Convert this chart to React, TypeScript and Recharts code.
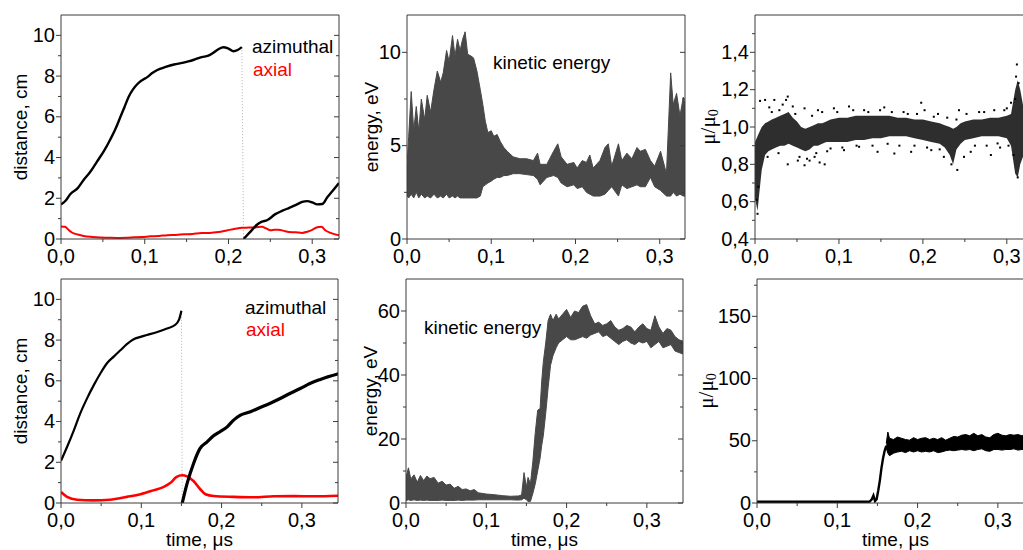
import type { JSX, ReactNode } from "react";
import { Area, ComposedChart, Line, Scatter, XAxis, YAxis } from "recharts";

const FONT = "'Liberation Sans', Arial, sans-serif";
const SERIF = "'Liberation Serif', 'Times New Roman', serif";
const AXIS = "#3a3a3a";
const INK = "#000000";
const RED = "#ff0000";
const BAND = "#484848";

// time axis (all panels)
const timeMajor = [0, 0.1, 0.2, 0.3];
const timeMinor = [0.05, 0.15, 0.25];

// top-left: distance, azimuthal before / after the jump, axial
const azTopTimeA = [0, 0.006, 0.011, 0.02, 0.027, 0.035, 0.043, 0.051, 0.059, 0.065, 0.071, 0.076, 0.081, 0.086, 0.091, 0.097, 0.103, 0.109, 0.115, 0.125, 0.135, 0.145, 0.152, 0.16, 0.168, 0.176, 0.182, 0.188, 0.194, 0.2, 0.206, 0.211, 0.216];
const azTopDistA = [1.7, 1.9, 2.2, 2.5, 2.9, 3.3, 3.8, 4.3, 4.9, 5.4, 6.0, 6.5, 7.0, 7.35, 7.6, 7.8, 7.95, 8.15, 8.3, 8.45, 8.57, 8.65, 8.72, 8.82, 8.93, 9.0, 9.15, 9.32, 9.42, 9.35, 9.22, 9.28, 9.42];
const azTopTimeB = [0.218, 0.226, 0.234, 0.24, 0.246, 0.256, 0.264, 0.272, 0.28, 0.288, 0.294, 0.3, 0.306, 0.312, 0.318, 0.324, 0.332];
const azTopDistB = [0, 0.35, 0.7, 0.85, 0.92, 1.22, 1.38, 1.52, 1.66, 1.82, 1.86, 1.8, 1.7, 1.72, 2.05, 2.35, 2.75];
const axTopTime = [0, 0.005, 0.009, 0.013, 0.02, 0.027, 0.037, 0.047, 0.057, 0.067, 0.077, 0.087, 0.097, 0.107, 0.117, 0.127, 0.137, 0.147, 0.157, 0.168, 0.178, 0.188, 0.198, 0.208, 0.216, 0.224, 0.232, 0.24, 0.245, 0.25, 0.255, 0.26, 0.266, 0.272, 0.28, 0.288, 0.294, 0.3, 0.306, 0.311, 0.316, 0.322, 0.332];
const axTopDist = [0.62, 0.6, 0.45, 0.32, 0.22, 0.15, 0.1, 0.07, 0.06, 0.05, 0.06, 0.08, 0.1, 0.13, 0.15, 0.19, 0.2, 0.23, 0.25, 0.3, 0.3, 0.34, 0.42, 0.5, 0.55, 0.56, 0.57, 0.6, 0.52, 0.43, 0.45, 0.46, 0.4, 0.34, 0.33, 0.3, 0.36, 0.45, 0.58, 0.6, 0.42, 0.3, 0.18];

// top-middle: kinetic energy envelope
const keTopTime = [0, 0.002, 0.005, 0.008, 0.011, 0.014, 0.017, 0.021, 0.024, 0.028, 0.032, 0.036, 0.04, 0.043, 0.047, 0.05, 0.054, 0.057, 0.06, 0.063, 0.066, 0.069, 0.072, 0.076, 0.079, 0.083, 0.087, 0.09, 0.093, 0.096, 0.1, 0.103, 0.107, 0.111, 0.115, 0.119, 0.126, 0.134, 0.142, 0.15, 0.155, 0.158, 0.166, 0.174, 0.179, 0.183, 0.19, 0.198, 0.202, 0.208, 0.213, 0.217, 0.221, 0.229, 0.235, 0.239, 0.243, 0.251, 0.255, 0.261, 0.267, 0.273, 0.277, 0.283, 0.289, 0.294, 0.301, 0.308, 0.313, 0.316, 0.32, 0.324, 0.328, 0.331];
const keTopHigh = [3.9, 5.5, 7.9, 5.8, 7.1, 5.8, 7.5, 6.4, 7.7, 6.8, 8.0, 9.0, 8.4, 8.9, 10.1, 9.5, 10.9, 9.8, 10.7, 10.1, 10.7, 11.1, 9.9, 9.8, 9.7, 9.0, 8.0, 7.2, 6.3, 5.7, 5.8, 5.5, 5.6, 5.2, 4.9, 4.7, 4.4, 4.3, 4.3, 4.2, 4.6, 4.0, 4.0, 4.7, 5.1, 4.4, 4.0, 4.1, 3.8, 4.2, 4.1, 4.5, 3.8, 4.2, 4.9, 5.1, 3.9, 5.1, 4.2, 4.6, 4.3, 4.9, 4.7, 4.8, 4.2, 3.9, 4.7, 3.5, 8.9, 7.2, 7.8, 6.6, 7.6, 7.0];
const keTopLow = [2.3, 2.2, 2.4, 2.2, 2.5, 2.2, 2.4, 2.2, 2.3, 2.2, 2.4, 2.2, 2.3, 2.2, 2.4, 2.2, 2.3, 2.2, 2.3, 2.2, 2.2, 2.2, 2.2, 2.2, 2.2, 2.2, 2.3, 2.8, 2.9, 3.0, 3.1, 3.2, 3.3, 3.3, 3.4, 3.4, 3.5, 3.5, 3.45, 3.4, 3.2, 2.9, 3.3, 3.4, 3.3, 3.0, 2.8, 2.9, 2.7, 2.8, 2.5, 2.4, 2.3, 2.3, 2.4, 2.6, 2.8, 2.3, 2.9, 2.7, 2.8, 2.9, 2.8, 2.8, 3.3, 2.8, 2.6, 2.3, 2.3, 2.5, 2.3, 2.4, 2.3, 2.3];

// top-right: mu / mu0, dense core plus scattered points
const muTopTime = [0, 0.003, 0.005, 0.008, 0.012, 0.016, 0.02, 0.025, 0.03, 0.035, 0.04, 0.045, 0.05, 0.055, 0.06, 0.065, 0.07, 0.075, 0.08, 0.085, 0.09, 0.1, 0.11, 0.12, 0.13, 0.14, 0.15, 0.16, 0.17, 0.18, 0.19, 0.2, 0.21, 0.22, 0.226, 0.232, 0.236, 0.24, 0.245, 0.25, 0.26, 0.27, 0.28, 0.29, 0.3, 0.305, 0.31, 0.313, 0.316, 0.32, 0.33];
const muTopLow = [0.62, 0.55, 0.64, 0.77, 0.85, 0.87, 0.88, 0.89, 0.9, 0.9, 0.91, 0.9, 0.89, 0.88, 0.87, 0.88, 0.9, 0.9, 0.91, 0.92, 0.92, 0.92, 0.92, 0.93, 0.93, 0.94, 0.94, 0.95, 0.95, 0.95, 0.94, 0.93, 0.92, 0.91, 0.89, 0.85, 0.8, 0.88, 0.91, 0.93, 0.94, 0.95, 0.95, 0.95, 0.94, 0.9, 0.75, 0.73, 0.8, 0.85, 0.9];
const muTopHigh = [0.92, 0.95, 0.97, 1.0, 1.02, 1.03, 1.04, 1.05, 1.06, 1.07, 1.08, 1.05, 1.03, 1.0, 0.99, 1.0, 1.01, 1.02, 1.02, 1.03, 1.04, 1.05, 1.05, 1.06, 1.06, 1.06, 1.06, 1.06, 1.05, 1.05, 1.04, 1.04, 1.03, 1.02, 1.01, 1.0, 0.99, 1.0, 1.02, 1.03, 1.04, 1.04, 1.05, 1.05, 1.06, 1.07, 1.2, 1.25, 1.2, 1.1, 1.06];
const muTopDotTime = [0.003, 0.002, 0.004, 0.006, 0.012, 0.015, 0.017, 0.023, 0.029, 0.037, 0.039, 0.045, 0.039, 0.051, 0.059, 0.065, 0.071, 0.077, 0.083, 0.059, 0.075, 0.094, 0.112, 0.13, 0.154, 0.182, 0.198, 0.202, 0.213, 0.225, 0.24, 0.241, 0.243, 0.249, 0.281, 0.297, 0.305, 0.311, 0.312, 0.313, 0.314, 0.146, 0.166, 0.186, 0.257, 0.124, 0.289, 0.106, 0.09, 0.21, 0.267, 0.02, 0.028, 0.033, 0.048, 0.053, 0.062, 0.068, 0.073, 0.08, 0.086, 0.098, 0.104, 0.117, 0.121, 0.135, 0.14, 0.149, 0.158, 0.163, 0.172, 0.177, 0.19, 0.193, 0.205, 0.218, 0.22, 0.229, 0.234, 0.252, 0.262, 0.273, 0.276, 0.285, 0.292, 0.3, 0.302, 0.308, 0.31];
const muTopDotVal = [0.535, 0.61, 0.68, 1.14, 1.145, 0.84, 1.105, 1.145, 1.09, 1.145, 1.163, 1.11, 0.8, 0.82, 0.795, 0.82, 0.84, 0.81, 0.8, 1.1, 1.09, 1.1, 1.11, 1.09, 1.105, 1.07, 1.13, 1.09, 1.055, 0.84, 1.04, 0.77, 1.09, 0.84, 0.85, 1.09, 1.13, 1.27, 1.335, 0.73, 1.235, 0.867, 0.858, 0.867, 0.867, 0.894, 0.912, 0.876, 0.885, 0.876, 1.08, 1.08, 0.86, 1.12, 1.07, 0.84, 0.83, 1.06, 0.86, 1.08, 0.87, 1.08, 0.89, 1.09, 0.9, 1.08, 0.9, 1.09, 0.91, 1.08, 0.9, 1.08, 0.9, 1.07, 0.89, 1.07, 0.88, 1.05, 0.8, 1.07, 0.9, 1.08, 0.9, 1.09, 0.89, 1.1, 0.9, 0.85, 1.15];

// bottom-left: distance
const azBotTimeA = [0, 0.0075, 0.016, 0.024, 0.032, 0.041, 0.049, 0.057, 0.066, 0.074, 0.082, 0.09, 0.099, 0.107, 0.12, 0.132, 0.142, 0.147, 0.15];
const azBotDistA = [2.07, 2.75, 3.57, 4.4, 5.1, 5.8, 6.36, 6.85, 7.2, 7.5, 7.8, 8.03, 8.16, 8.25, 8.4, 8.57, 8.74, 9.0, 9.44];
const azBotTimeB = [0.151, 0.157, 0.165, 0.173, 0.182, 0.19, 0.198, 0.207, 0.215, 0.223, 0.236, 0.248, 0.26, 0.273, 0.285, 0.298, 0.31, 0.323, 0.346];
const azBotDistB = [0, 0.95, 1.93, 2.67, 3.0, 3.3, 3.5, 3.74, 4.07, 4.3, 4.48, 4.69, 4.89, 5.13, 5.38, 5.62, 5.87, 6.07, 6.35];
const axBotTime = [0, 0.0075, 0.02, 0.04, 0.061, 0.082, 0.099, 0.115, 0.128, 0.136, 0.144, 0.151, 0.157, 0.165, 0.173, 0.18, 0.19, 0.215, 0.24, 0.265, 0.29, 0.315, 0.346];
const axBotDist = [0.54, 0.3, 0.16, 0.13, 0.16, 0.3, 0.43, 0.62, 0.79, 0.98, 1.28, 1.36, 1.31, 1.08, 0.7, 0.43, 0.34, 0.3, 0.28, 0.33, 0.34, 0.33, 0.36];

// bottom-middle: kinetic energy envelope
const keBotTime = [0, 0.003, 0.006, 0.01, 0.014, 0.018, 0.022, 0.026, 0.03, 0.035, 0.04, 0.045, 0.05, 0.055, 0.06, 0.065, 0.07, 0.075, 0.08, 0.085, 0.09, 0.1, 0.11, 0.12, 0.13, 0.14, 0.144, 0.147, 0.15, 0.152, 0.155, 0.158, 0.161, 0.164, 0.167, 0.169, 0.171, 0.174, 0.177, 0.18, 0.183, 0.187, 0.19, 0.195, 0.2, 0.205, 0.21, 0.215, 0.22, 0.225, 0.23, 0.235, 0.24, 0.245, 0.25, 0.255, 0.26, 0.265, 0.27, 0.275, 0.28, 0.285, 0.29, 0.295, 0.3, 0.305, 0.31, 0.315, 0.32, 0.325, 0.33, 0.335, 0.34, 0.346];
const keBotHigh = [8, 11, 7.5, 8.8, 6.5, 8.6, 7.0, 8.4, 7.6, 8.0, 6.2, 6.8, 5.6, 5.9, 4.6, 5.2, 4.2, 4.4, 3.8, 4.2, 3.2, 2.8, 2.6, 2.3, 2.1, 2.2, 2.5, 9.5, 5.0, 8.0, 6.0, 13, 22, 29, 29.5, 38, 44, 50, 57, 59, 57, 59, 57.5, 59, 60.5, 58, 60, 59.5, 61.5, 62, 58.5, 56, 56.5, 55.5, 56, 57, 55, 54, 54.5, 55.5, 55, 53.5, 55, 56, 54.5, 54, 58.5, 55, 53, 54.5, 54, 52, 51, 50.5];
const keBotLow = [0.8, 1.0, 0.8, 1.0, 0.8, 0.9, 0.8, 0.9, 0.8, 0.8, 0.8, 0.9, 0.8, 0.8, 0.8, 0.9, 0.8, 0.9, 0.9, 0.9, 1.0, 1.0, 1.0, 1.0, 1.0, 0.9, 1.0, 1.5, 1.0, 0.5, 0.5, 3, 6, 10, 14, 18, 21, 28, 36, 43, 46, 48.5, 50, 51, 52, 51, 51, 51.5, 52, 51.5, 52.5, 53, 53.5, 52, 52.5, 51.5, 50.5, 49.5, 50.5, 51, 50, 49.5, 50.5, 50, 50.5, 48.5, 49.5, 50.5, 48.5, 49, 49.5, 47.5, 47, 46.5];

// bottom-right: mu / mu0
const muBotRampTime = [0, 0.05, 0.1, 0.14, 0.143, 0.145, 0.147, 0.149, 0.151, 0.153, 0.155, 0.157, 0.159, 0.161];
const muBotRampVal = [1, 1, 1, 1, 3, 6, 1.5, 3, 10, 18, 28, 36, 42, 46];
const muBotTime = [0.161, 0.163, 0.165, 0.17, 0.175, 0.18, 0.185, 0.19, 0.195, 0.2, 0.205, 0.21, 0.215, 0.22, 0.225, 0.23, 0.235, 0.24, 0.245, 0.25, 0.255, 0.26, 0.265, 0.27, 0.275, 0.28, 0.285, 0.29, 0.295, 0.3, 0.305, 0.31, 0.315, 0.32, 0.325, 0.33, 0.335];
const muBotHigh = [48, 57, 52, 51, 53, 52, 51, 50.5, 52.5, 51, 52, 52.5, 51, 52, 51, 52.5, 50.5, 52, 53.5, 53, 54.5, 55, 54, 56, 54, 55, 53, 52.5, 55, 56, 54.5, 54, 55, 54.5, 55, 54, 55];
const muBotLow = [44, 40, 38, 40, 41, 41.5, 40.5, 42, 41, 42, 41, 41.5, 41, 42, 40.5, 41, 42, 42.5, 42, 42.5, 43, 42.5, 43, 42, 43, 43.5, 42, 41.5, 43, 43, 42.5, 43, 43, 43.5, 42.5, 43, 43];

const pts = (t: number[], v: number[]) => t.map((x, i) => ({ t: x, v: v[i] }));
const band = (t: number[], lo: number[], hi: number[]) =>
  t.map((x, i) => ({ t: x, range: [lo[i], hi[i]] }));

const comma = (d: number) => (v: number) => v.toFixed(d).replace(".", ",");
const near = (v: number, list: number[]) => list.some((m) => Math.abs(m - v) < 1e-6);

type PanelProps = {
  left: number;
  top: number;
  plotW: number;
  plotH: number;
  xMax: number;
  yDomain: [number, number];
  yMajor: number[];
  yMinor: number[];
  yFmt: (v: number) => string;
  title: ReactNode;
  titleGap: number;
  timeLabel?: boolean;
  children: ReactNode;
};

function Panel(p: PanelProps): JSX.Element {
  const xTicks = [...timeMajor, ...timeMinor].sort((a, b) => a - b);
  const yTicks = [...p.yMajor, ...p.yMinor].sort((a, b) => a - b);
  const tickTxt = { fontFamily: FONT, fontSize: 20, fill: INK };
  const titleTxt = { fontFamily: FONT, fontSize: 19, fill: INK };

  const bottomTick = (t: any) => {
    const major = near(t.payload.value, timeMajor);
    return (
      <g>
        <line x1={t.x} x2={t.x} y1={t.y} y2={t.y + (major ? 5 : 3)} stroke={AXIS} />
        {major && (
          <text x={t.x} y={t.y + 24} textAnchor="middle" {...tickTxt}>
            {comma(1)(t.payload.value)}
          </text>
        )}
      </g>
    );
  };
  const topTick = (t: any) => {
    const major = near(t.payload.value, timeMajor);
    return <line x1={t.x} x2={t.x} y1={t.y} y2={t.y + (major ? 5 : 3)} stroke={AXIS} />;
  };
  const leftTick = (t: any) => {
    const major = near(t.payload.value, p.yMajor);
    return (
      <g>
        <line x1={t.x - (major ? 5 : 3)} x2={t.x} y1={t.y} y2={t.y} stroke={AXIS} />
        {major && (
          <text x={t.x - 6} y={t.y + 6.5} textAnchor="end" {...tickTxt}>
            {p.yFmt(t.payload.value)}
          </text>
        )}
      </g>
    );
  };
  const rightTick = (t: any) => {
    const major = near(t.payload.value, p.yMajor);
    return <line x1={t.x - (major ? 5 : 3)} x2={t.x} y1={t.y} y2={t.y} stroke={AXIS} />;
  };
  const yTitle = (props: any) => {
    const vb = props.viewBox;
    const cx = vb.x + vb.width - p.titleGap;
    const cy = vb.y + vb.height / 2;
    return (
      <text x={cx} y={cy} transform={`rotate(-90 ${cx} ${cy})`} textAnchor="middle" dominantBaseline="central" {...titleTxt}>
        {p.title}
      </text>
    );
  };
  const xTitle = (props: any) => {
    const vb = props.viewBox;
    return (
      <text x={vb.x + vb.width / 2} y={vb.y + 43} textAnchor="middle" {...titleTxt}>
        time, μs
      </text>
    );
  };

  return (
    <div style={{ position: "absolute", left: p.left - 70, top: p.top - 10 }}>
      <ComposedChart width={p.plotW + 80} height={p.plotH + 60} margin={{ top: 8, right: 8, bottom: 0, left: 0 }}>
        <XAxis
          dataKey="t"
          type="number"
          domain={[0, p.xMax]}
          ticks={xTicks}
          interval={0}
          allowDataOverflow
          height={50}
          tickSize={0}
          tickMargin={0}
          tickLine={false}
          axisLine={{ stroke: AXIS }}
          tick={bottomTick}
          label={p.timeLabel ? xTitle : undefined}
        />
        <XAxis
          xAxisId="top"
          orientation="top"
          type="number"
          domain={[0, p.xMax]}
          ticks={xTicks}
          interval={0}
          allowDataOverflow
          height={2}
          tickSize={0}
          tickMargin={0}
          tickLine={false}
          axisLine={{ stroke: AXIS }}
          tick={topTick}
        />
        <YAxis
          type="number"
          domain={p.yDomain}
          ticks={yTicks}
          interval={0}
          allowDataOverflow
          width={70}
          tickSize={0}
          tickMargin={0}
          tickLine={false}
          axisLine={{ stroke: AXIS }}
          tick={leftTick}
          label={yTitle}
        />
        <YAxis
          yAxisId="right"
          orientation="right"
          type="number"
          domain={p.yDomain}
          ticks={yTicks}
          interval={0}
          allowDataOverflow
          width={2}
          tickSize={0}
          tickMargin={0}
          tickLine={false}
          axisLine={{ stroke: AXIS }}
          tick={rightTick}
        />
        {p.children}
      </ComposedChart>
    </div>
  );
}

const muTitle = (
  <>
    <tspan fontFamily={SERIF} fontSize={21}>μ/μ</tspan>
    <tspan fontFamily={SERIF} fontSize={14} dy={5}>0</tspan>
  </>
);

const distMajor = [0, 2, 4, 6, 8, 10];
const distMinor = [1, 3, 5, 7, 9];

export default function App(): JSX.Element {
  const azTopA = pts(azTopTimeA, azTopDistA);
  const azTopB = pts(azTopTimeB, azTopDistB);
  const azBotA = pts(azBotTimeA, azBotDistA);
  const azBotB = pts(azBotTimeB, azBotDistB);
  const note = { fontFamily: FONT, fontSize: 19 };

  return (
    <div style={{ position: "absolute", left: 0, top: 0, width: 1023, height: 550, overflow: "hidden", background: "#fff" }}>
      {/* top row */}
      <Panel left={61} top={15} plotW={278} plotH={224} xMax={0.332} yDomain={[0, 11]} yMajor={distMajor} yMinor={distMinor} yFmt={String} title="distance, cm" titleGap={41}>
        <Line data={[azTopA[azTopA.length - 1], azTopB[0]]} dataKey="v" stroke="#b0b0b0" strokeWidth={1} strokeDasharray="1 2" dot={false} isAnimationActive={false} />
        <Line data={pts(axTopTime, axTopDist)} dataKey="v" type="monotone" stroke={RED} strokeWidth={2} dot={false} isAnimationActive={false} />
        <Line data={azTopA} dataKey="v" type="monotone" stroke={INK} strokeWidth={2.4} dot={false} isAnimationActive={false} />
        <Line data={azTopB} dataKey="v" type="monotone" stroke={INK} strokeWidth={2.4} dot={false} isAnimationActive={false} />
      </Panel>
      <Panel left={407} top={15} plotW={278} plotH={224} xMax={0.33} yDomain={[0, 12]} yMajor={[0, 5, 10]} yMinor={[2.5, 7.5]} yFmt={String} title="energy, eV" titleGap={36}>
        <Area data={band(keTopTime, keTopLow, keTopHigh)} dataKey="range" type="linear" stroke={BAND} strokeWidth={1} fill={BAND} fillOpacity={1} isAnimationActive={false} />
      </Panel>
      <Panel left={755} top={15} plotW={277} plotH={224} xMax={0.33} yDomain={[0.4, 1.6]} yMajor={[0.4, 0.6, 0.8, 1.0, 1.2, 1.4]} yMinor={[0.5, 0.7, 0.9, 1.1, 1.3, 1.5]} yFmt={comma(1)} title={muTitle} titleGap={47}>
        <Area data={band(muTopTime, muTopLow, muTopHigh)} dataKey="range" type="linear" stroke="none" fill={INK} fillOpacity={0.82} isAnimationActive={false} />
        <Scatter
          data={pts(muTopDotTime, muTopDotVal)}
          dataKey="v"
          isAnimationActive={false}
          shape={(s: any) => <rect x={s.cx - 1} y={s.cy - 1} width={2} height={2} fill={INK} />}
        />
      </Panel>

      {/* bottom row */}
      <Panel left={61} top={279} plotW={277} plotH={224} xMax={0.345} yDomain={[0, 11]} yMajor={distMajor} yMinor={distMinor} yFmt={String} title="distance, cm" titleGap={41} timeLabel>
        <Line data={[azBotA[azBotA.length - 1], azBotB[0]]} dataKey="v" stroke="#b0b0b0" strokeWidth={1} strokeDasharray="1 2" dot={false} isAnimationActive={false} />
        <Line data={pts(axBotTime, axBotDist)} dataKey="v" type="monotone" stroke={RED} strokeWidth={2.6} dot={false} isAnimationActive={false} />
        <Line data={azBotA} dataKey="v" type="monotone" stroke={INK} strokeWidth={2.2} dot={false} isAnimationActive={false} />
        <Line data={azBotB} dataKey="v" type="monotone" stroke={INK} strokeWidth={3.2} dot={false} isAnimationActive={false} />
      </Panel>
      <Panel left={406} top={279} plotW={277} plotH={224} xMax={0.345} yDomain={[0, 70]} yMajor={[0, 20, 40, 60]} yMinor={[10, 30, 50]} yFmt={String} title="energy, eV" titleGap={36} timeLabel>
        <Area data={band(keBotTime, keBotLow, keBotHigh)} dataKey="range" type="linear" stroke={BAND} strokeWidth={1} fill={BAND} fillOpacity={1} isAnimationActive={false} />
      </Panel>
      <Panel left={757} top={279} plotW={277} plotH={224} xMax={0.345} yDomain={[0, 180]} yMajor={[0, 50, 100, 150]} yMinor={[25, 75, 125, 175]} yFmt={String} title={muTitle} titleGap={51} timeLabel>
        <Line data={pts(muBotRampTime, muBotRampVal)} dataKey="v" type="linear" stroke={INK} strokeWidth={2.4} dot={false} isAnimationActive={false} />
        <Area data={band(muBotTime, muBotLow, muBotHigh)} dataKey="range" type="linear" stroke={INK} strokeWidth={1} fill={INK} fillOpacity={1} isAnimationActive={false} />
      </Panel>

      {/* in-plot annotations */}
      <svg width={1023} height={550} style={{ position: "absolute", left: 0, top: 0, pointerEvents: "none" }}>
        <text x={252} y={53} fill={INK} {...note}>azimuthal</text>
        <text x={253} y={76} fill={RED} {...note}>axial</text>
        <text x={245} y={314} fill={INK} {...note}>azimuthal</text>
        <text x={246} y={336} fill={RED} {...note}>axial</text>
        <text x={493} y={69} fill={INK} {...note}>kinetic energy</text>
        <text x={424} y={334} fill={INK} {...note}>kinetic energy</text>
      </svg>
    </div>
  );
}
